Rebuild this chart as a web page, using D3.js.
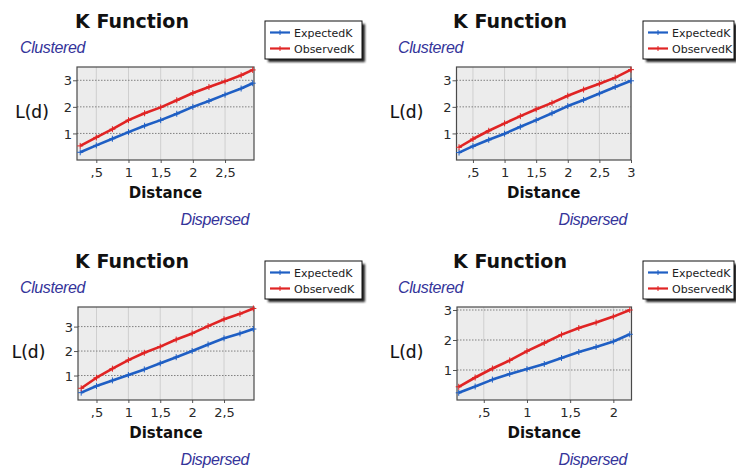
<!DOCTYPE html>
<html>
<head>
<meta charset="utf-8">
<script src="https://cdn.jsdelivr.net/npm/d3@7"></script>
<style>
  html, body { margin: 0; padding: 0; background: #ffffff; }
  svg { display: block; }
</style>
</head>
<body>
<svg id="chart" width="736" height="470"></svg>
<script>
// Multi-distance K function results, four study areas.
// Distances and L(d) values per area.
const distA = [0.25, 0.5, 0.75, 1.0, 1.25, 1.5, 1.75, 2.0, 2.25, 2.5, 2.75, 2.93];
const expectedA = [0.29, 0.55, 0.80, 1.05, 1.29, 1.50, 1.74, 2.00, 2.22, 2.46, 2.69, 2.89];
const observedA = [0.53, 0.85, 1.16, 1.50, 1.76, 1.98, 2.25, 2.52, 2.75, 2.96, 3.19, 3.39];

const distB = [0.28, 0.5, 0.75, 1.0, 1.25, 1.5, 1.75, 2.0, 2.25, 2.5, 2.75, 3.0];
const expectedB = [0.28, 0.52, 0.76, 0.99, 1.25, 1.50, 1.76, 2.03, 2.26, 2.50, 2.75, 2.98];
const observedB = [0.48, 0.79, 1.10, 1.38, 1.65, 1.91, 2.15, 2.42, 2.65, 2.87, 3.10, 3.40];

const distC = [0.26, 0.5, 0.75, 1.0, 1.25, 1.5, 1.75, 2.0, 2.25, 2.5, 2.75, 2.96];
const expectedC = [0.30, 0.57, 0.80, 1.02, 1.25, 1.50, 1.75, 2.00, 2.27, 2.52, 2.72, 2.90];
const observedC = [0.48, 0.91, 1.28, 1.63, 1.93, 2.18, 2.47, 2.72, 3.02, 3.30, 3.52, 3.74];

const distD = [0.21, 0.4, 0.6, 0.8, 1.0, 1.2, 1.4, 1.6, 1.8, 2.0, 2.19];
const expectedD = [0.24, 0.45, 0.68, 0.87, 1.03, 1.20, 1.40, 1.60, 1.77, 1.95, 2.19];
const observedD = [0.44, 0.75, 1.05, 1.32, 1.63, 1.90, 2.18, 2.40, 2.58, 2.78, 3.00];

// Axis ticks
const xTicksLong = [0.5, 1, 1.5, 2, 2.5];
const xTicksToThree = [0.5, 1, 1.5, 2, 2.5, 3];
const xTicksShort = [0.5, 1, 1.5, 2];
const yTicks = [1, 2, 3];

// Text
const titleText = "K Function";
const yLabelText = "L(d)";
const xLabelText = "Distance";
const topNote = "Clustered";
const bottomNote = "Dispersed";
const seriesNames = ["ExpectedK", "ObservedK"];
const seriesColors = ["#1f5fc4", "#e02424"];

// Decimal-comma tick format: 0.5 -> ",5", 1.5 -> "1,5"
const fmtTick = d => {
  let s = String(d).replace(".", ",");
  if (s.startsWith("0,")) s = s.slice(1);
  return s;
};

const panels = [
  { ox: 0,   oy: 0,   plot: [77, 254, 67, 160],    xDomain: [0.2, 2.95],  yDomain: [0, 3.5], dist: distA, exp: expectedA, obs: observedA, ticks: xTicksLong,    legendW: 97, ylabX: 32 },
  { ox: 378, oy: 0,   plot: [456.5, 631, 67, 160], xDomain: [0.24, 3.0],  yDomain: [0, 3.5], dist: distB, exp: expectedB, obs: observedB, ticks: xTicksToThree, legendW: 91, ylabX: 28.5 },
  { ox: 0,   oy: 240, plot: [78, 254, 307, 400],   xDomain: [0.21, 2.97], yDomain: [0, 3.8], dist: distC, exp: expectedC, obs: observedC, ticks: xTicksLong,    legendW: 97, ylabX: 28.5 },
  { ox: 378, oy: 240, plot: [457, 631.5, 307, 400], xDomain: [0.19, 2.21], yDomain: [0, 3.1], dist: distD, exp: expectedD, obs: observedD, ticks: xTicksShort,   legendW: 91, ylabX: 28.5 }
];

const svg = d3.select("#chart");

const defs = svg.append("defs");
defs.append("filter").attr("id", "shadowBlur")
  .append("feGaussianBlur").attr("stdDeviation", 0.8);

function crossPath(x, y, r) {
  return `M${x - r},${y}H${x + r}M${x},${y - r}V${y + r}`;
}

panels.forEach(p => {
  const [px0, px1, py0, py1] = p.plot;
  const x = d3.scaleLinear().domain(p.xDomain).range([px0, px1]);
  const y = d3.scaleLinear().domain(p.yDomain).range([py1, py0]);
  const g = svg.append("g");

  // Plot background
  g.append("rect")
    .attr("x", px0).attr("y", py0)
    .attr("width", px1 - px0).attr("height", py1 - py0)
    .attr("fill", "#ececec");

  // Vertical grid
  g.append("g").selectAll("line").data(p.ticks).join("line")
    .attr("x1", d => x(d)).attr("x2", d => x(d))
    .attr("y1", py0).attr("y2", py1)
    .attr("stroke", "#cfcfcf").attr("stroke-width", 1);

  // Horizontal dotted grid
  g.append("g").selectAll("line").data(yTicks).join("line")
    .attr("x1", px0).attr("x2", px1)
    .attr("y1", d => y(d)).attr("y2", d => y(d))
    .attr("stroke", "#808080").attr("stroke-width", 1)
    .attr("stroke-dasharray", "1.5,1.5");

  // Axes
  const xAxis = d3.axisBottom(x).tickValues(p.ticks).tickFormat(fmtTick).tickSize(3).tickPadding(5);
  const yAxis = d3.axisLeft(y).tickValues(yTicks).tickFormat(d3.format("d")).tickSize(4).tickPadding(1);

  const gx = g.append("g").attr("transform", `translate(0,${py1})`).call(xAxis);
  const gy = g.append("g").attr("transform", `translate(${px0},0)`).call(yAxis);
  [gx, gy].forEach(a => {
    a.select(".domain").remove();
    a.selectAll(".tick line").attr("stroke", "#555");
    a.selectAll(".tick text")
      .attr("font-family", "DejaVu Sans, Verdana, sans-serif")
      .attr("font-size", 13).attr("fill", "#2a2a2a");
  });
  gy.selectAll(".tick text").attr("dy", "0.36em");

  // Plot frame
  g.append("rect")
    .attr("x", px0).attr("y", py0)
    .attr("width", px1 - px0).attr("height", py1 - py0)
    .attr("fill", "none").attr("stroke", "#4a4a4a").attr("stroke-width", 1.2);

  // Series lines with cross markers
  const line = d3.line().x(d => x(d[0])).y(d => y(d[1]));
  [p.exp, p.obs].forEach((vals, i) => {
    const pts = p.dist.map((d, k) => [d, vals[k]]);
    g.append("path").datum(pts)
      .attr("d", line)
      .attr("fill", "none")
      .attr("stroke", seriesColors[i])
      .attr("stroke-width", 2.6)
      .attr("stroke-linejoin", "round");
    g.append("path")
      .attr("d", pts.map(q => crossPath(x(q[0]), y(q[1]), 3)).join(""))
      .attr("stroke", seriesColors[i]).attr("stroke-width", 1).attr("fill", "none");
  });

  const ox = p.ox, oy = p.oy;

  // Title
  g.append("text")
    .attr("x", ox + 132).attr("y", oy + 28)
    .attr("text-anchor", "middle")
    .attr("font-family", "DejaVu Sans, Verdana, sans-serif")
    .attr("font-weight", "bold").attr("font-size", 19)
    .attr("fill", "#111")
    .text(titleText);

  // Clustered / Dispersed notes
  g.append("text")
    .attr("x", ox + 20).attr("y", oy + 53)
    .attr("font-family", "Liberation Sans, Arial, sans-serif")
    .attr("font-style", "italic").attr("font-size", 16)
    .attr("letter-spacing", -0.4)
    .attr("fill", "#34349a")
    .text(topNote);
  g.append("text")
    .attr("x", ox + 249).attr("y", oy + 225)
    .attr("text-anchor", "end")
    .attr("font-family", "Liberation Sans, Arial, sans-serif")
    .attr("font-style", "italic").attr("font-size", 16)
    .attr("letter-spacing", -0.4)
    .attr("fill", "#34349a")
    .text(bottomNote);

  // Axis titles
  g.append("text")
    .attr("x", ox + p.ylabX).attr("y", oy + 118)
    .attr("text-anchor", "middle")
    .attr("font-family", "DejaVu Sans, Verdana, sans-serif")
    .attr("font-size", 17).attr("fill", "#111")
    .attr("stroke", "#111").attr("stroke-width", 0.15)
    .text(yLabelText);
  g.append("text")
    .attr("x", (px0 + px1) / 2).attr("y", py1 + 38)
    .attr("text-anchor", "middle")
    .attr("font-family", "DejaVu Sans, Verdana, sans-serif")
    .attr("font-weight", "bold").attr("font-size", 15).attr("fill", "#111")
    .text(xLabelText);

  // Legend
  const lx = ox + 265, ly = oy + 21, lw = p.legendW, lh = 38;
  g.append("rect")
    .attr("x", lx + 3).attr("y", ly + 3).attr("width", lw).attr("height", lh)
    .attr("fill", "#222").attr("filter", "url(#shadowBlur)");
  g.append("rect")
    .attr("x", lx).attr("y", ly).attr("width", lw).attr("height", lh)
    .attr("fill", "#fff").attr("stroke", "#111").attr("stroke-width", 1);
  seriesNames.forEach((name, i) => {
    const yy = ly + 11.5 + i * 16;
    g.append("line")
      .attr("x1", lx + 5).attr("x2", lx + 25)
      .attr("y1", yy).attr("y2", yy)
      .attr("stroke", seriesColors[i]).attr("stroke-width", 2.2);
    g.append("path")
      .attr("d", crossPath(lx + 15, yy, 2.5))
      .attr("stroke", seriesColors[i]).attr("stroke-width", 1);
    g.append("text")
      .attr("x", lx + 29).attr("y", yy + 4)
      .attr("font-family", "DejaVu Sans, Verdana, sans-serif")
      .attr("font-size", 11).attr("fill", "#222")
      .text(name);
  });
});
</script>
</body>
</html>
